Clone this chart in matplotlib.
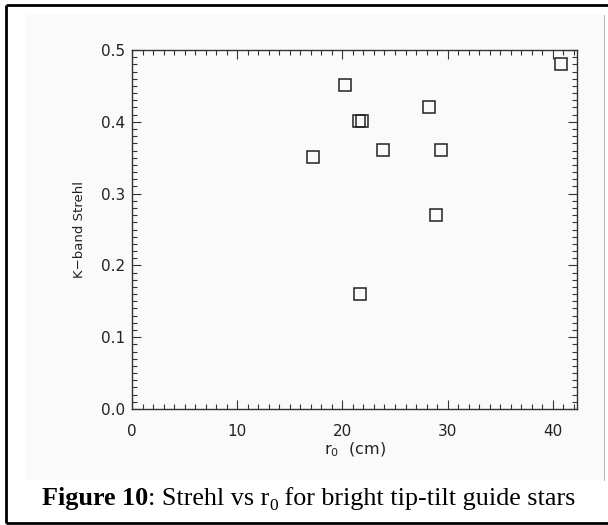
import matplotlib
matplotlib.use("Agg")
import matplotlib.pyplot as plt
from matplotlib.lines import Line2D
from matplotlib.patches import Rectangle
from matplotlib.ticker import MultipleLocator

# r0 (cm) and K-band Strehl
r0 = [20.2, 28.2, 21.6, 21.9, 23.9, 29.4, 17.2, 28.9, 21.7, 40.8]
strehl = [0.451, 0.421, 0.401, 0.401, 0.361, 0.361, 0.351, 0.270, 0.160, 0.480]

xticks = [0, 10, 20, 30, 40]
yticks = [0.0, 0.1, 0.2, 0.3, 0.4, 0.5]

W, H = 608, 525
fig = plt.figure(figsize=(W / 100, H / 100), dpi=100)
fig.patch.set_facecolor("white")

# light grey panel behind the plot, with a thin grey edge on the right
fig.add_artist(Rectangle((25 / W, 1 - 480 / H), 579 / W, 465 / H,
                         transform=fig.transFigure, facecolor="#fafafa",
                         edgecolor="none", zorder=0))
fig.add_artist(Line2D([604 / W, 604 / W], [1 - 15 / H, 1 - 480 / H],
                      transform=fig.transFigure, color="#b8b8b8", lw=0.8))

# black frame (right side is cut off in the original)
fr = dict(transform=fig.transFigure, color="black", lw=2.0, solid_capstyle="butt")
fig.add_artist(Line2D([6 / W, 6 / W], [1 - 5 / H, 1 - 523 / H], **fr))
fig.add_artist(Line2D([6 / W, 1.0], [1 - 5 / H, 1 - 5 / H], **fr))
fig.add_artist(Line2D([6 / W, 1.0], [1 - 523 / H, 1 - 523 / H], **fr))

ax = fig.add_axes([132 / W, 1 - 409 / H, 445 / W, 359 / H])
ax.set_facecolor("none")

ax.plot(r0, strehl, linestyle="none", marker="s", markersize=8,
        markerfacecolor="none", markeredgecolor="#222222", markeredgewidth=1.1)

ax.set_xlim(0, 42.3)
ax.set_ylim(0, 0.5)
ax.set_xticks(xticks)
ax.set_yticks(yticks)
ax.set_yticklabels([f"{v:.1f}" for v in yticks])
ax.xaxis.set_minor_locator(MultipleLocator(1))
ax.yaxis.set_minor_locator(MultipleLocator(0.01))

ax.tick_params(which="both", direction="in", top=True, right=True,
               color="#333333", width=0.8, labelsize=11, labelcolor="#222222")
ax.tick_params(which="major", length=6.5)
ax.tick_params(which="minor", length=3.6)
ax.tick_params(axis="x", pad=11)
ax.tick_params(axis="y", pad=5)
for s in ax.spines.values():
    s.set_color("#333333")
    s.set_linewidth(1.0)

ax.set_xlabel("r$_0$  (cm)", fontsize=11.5, color="#222222", labelpad=1)
ax.set_ylabel("K\u2212band Strehl", fontsize=9.5, color="#222222", labelpad=11)

# caption in pieces: bold part, plain part, subscript, rest
cap = dict(family="Liberation Serif", fontsize=18.8, color="black")
t1 = fig.text(42 / W, 1 - 505 / H, "Figure 10", fontweight="bold",
              va="baseline", **cap)
t2 = ax.annotate(": Strehl vs r", xy=(1, 0), xycoords=t1, va="bottom",
                 annotation_clip=False, **cap)
t3 = ax.annotate("0", xy=(1, 0), xycoords=t2, xytext=(0, -3),
                 textcoords="offset points", va="bottom",
                 annotation_clip=False, family="Liberation Serif",
                 fontsize=12.5, color="black")
ax.annotate(" for bright tip-tilt guide stars", xy=(1, 0), xycoords=t3,
            xytext=(0, 3), textcoords="offset points", va="bottom",
            annotation_clip=False, **cap)

fig.savefig("out.png", dpi=100, facecolor=fig.get_facecolor())
